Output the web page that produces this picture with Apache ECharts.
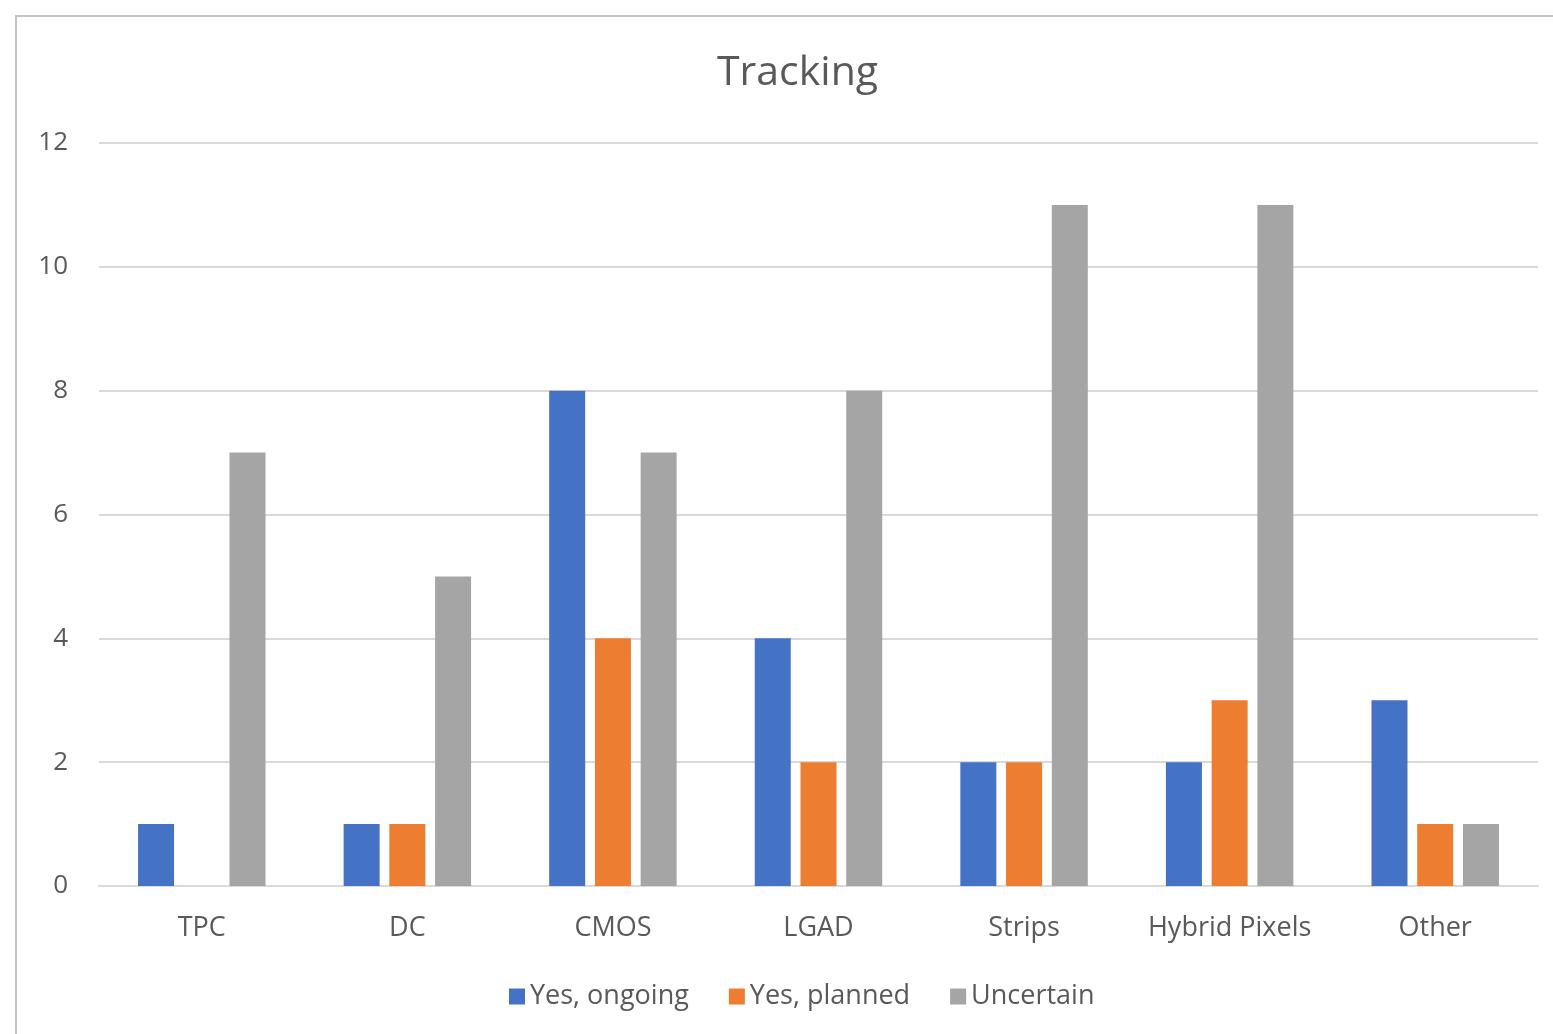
<!DOCTYPE html>
<html>
<head>
<meta charset="utf-8">
<script src="https://cdn.jsdelivr.net/npm/echarts@6/dist/echarts.min.js"></script>
<style>
  html, body { margin: 0; padding: 0; background: #fff; }
  #chart { width: 1553px; height: 1034px; }
</style>
</head>
<body>
<div id="chart"></div>
<script>
// ── Данные ────────────────────────────────────────────────
var categories = ['TPC', 'DC', 'CMOS', 'LGAD', 'Strips', 'Hybrid Pixels', 'Other'];
var yesOngoing = [1, 1, 8, 4, 2, 2, 3];
var yesPlanned = [0, 1, 4, 2, 2, 3, 1];
var uncertain  = [7, 5, 7, 8, 11, 11, 1];
var yTicks = [0, 2, 4, 6, 8, 10, 12];

var FONT = '"Open Sans", sans-serif';
var TEXT = '#595959';

var chart = echarts.init(document.getElementById('chart'));

chart.setOption({
  animation: false,
  textStyle: { fontFamily: FONT },
  title: {
    text: 'Tracking',
    left: 712,
    top: 48,
    textStyle: { fontSize: 41, fontWeight: 'normal', color: TEXT, fontFamily: FONT }
  },
  graphic: [{
    type: 'rect',
    shape: { x: 16, y: 16, width: 1600, height: 1100 },
    style: { fill: 'none', stroke: '#c4c4c4', lineWidth: 2 },
    silent: true
  }],
  legend: {
    bottom: 19,
    left: 504,
    itemWidth: 16,
    itemHeight: 16,
    itemGap: 40,
    icon: 'rect',
    textStyle: { fontSize: 27, color: TEXT, fontFamily: FONT },
    data: ['Yes, ongoing', 'Yes, planned', 'Uncertain']
  },
  grid: { left: 99, right: 15, top: 143, bottom: 148, containLabel: false },
  xAxis: {
    type: 'category',
    data: categories,
    axisTick: { show: false },
    axisLine: { lineStyle: { color: '#d9d9d9', width: 2 } },
    axisLabel: { fontSize: 27, color: TEXT, margin: 29, interval: 0, fontFamily: FONT }
  },
  yAxis: {
    type: 'value',
    min: yTicks[0],
    max: yTicks[yTicks.length - 1],
    interval: 2,
    axisLine: { show: false },
    axisTick: { show: false },
    axisLabel: { fontSize: 26, color: TEXT, margin: 31, fontFamily: FONT },
    splitLine: { lineStyle: { color: '#d9d9d9', width: 2 } }
  },
  series: [
    {
      name: 'Yes, ongoing', type: 'bar', data: yesOngoing,
      barGap: '27%', barCategoryGap: '38%',
      itemStyle: { color: '#4472C4' }
    },
    {
      name: 'Yes, planned', type: 'bar',
      data: yesPlanned.map(function (v) { return v === 0 ? null : v; }),
      itemStyle: { color: '#ED7D31' }
    },
    {
      name: 'Uncertain', type: 'bar', data: uncertain,
      itemStyle: { color: '#A5A5A5' }
    }
  ]
});
</script>
</body>
</html>
